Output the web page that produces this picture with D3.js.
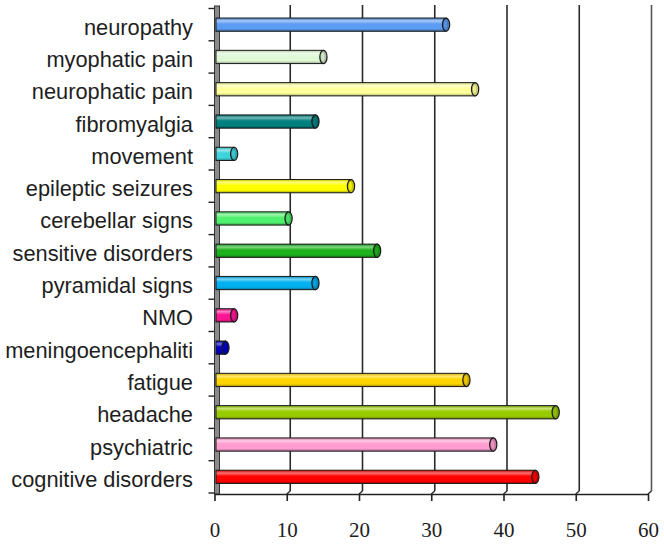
<!DOCTYPE html>
<html>
<head>
<meta charset="utf-8">
<script src="https://cdn.jsdelivr.net/npm/d3@7/dist/d3.min.js"></script>
<style>
  html, body { margin: 0; padding: 0; background: #fff; }
  svg { display: block; }
</style>
</head>
<body>
<svg id="chart" width="664" height="544"></svg>
<script>
const categories = ["neuropathy","myophatic pain","neurophatic pain","fibromyalgia","movement","epileptic seizures","cerebellar signs","sensitive disorders","pyramidal signs","NMO","meningoencephaliti","fatigue","headache","psychiatric","cognitive disorders"];
const values = [31.7, 14.8, 35.7, 13.7, 2.5, 18.6, 10.0, 22.2, 13.7, 2.5, 1.3, 34.5, 46.8, 38.2, 44.0];
const colors = ["#5c9cf2","#dff8d6","#ffff9c","#00807f","#3fd3dc","#ffff00","#4ff06e","#1db21d","#00b0f0","#ff1493","#0000c8","#ffd500","#99cc00","#ff9ccf","#ff0000"];
const xTicks = [0, 10, 20, 30, 40, 50, 60];

const svg = d3.select("#chart");
const defs = svg.append("defs");

// front (axis) scale and depth offsets
const x = d3.scaleLinear().domain([0, 60]).range([214.5, 648]);
const xBar = d3.scaleLinear().domain([0, 60]).range([216, 651.5]);
const back = {dx: 3.5, dy: -3};
const y = d3.scaleBand().domain(categories).range([8.5, 493]).paddingInner(0.59).paddingOuter(0.295);
const axisY = 494;

// back wall gridlines
const grid = svg.append("g");
xTicks.forEach(t => {
  if (t === 0) return;
  const gx = x(t) + back.dx;
  grid.append("line")
    .attr("x1", gx).attr("x2", gx)
    .attr("y1", 5).attr("y2", axisY + back.dy)
    .attr("stroke", t === 60 ? "#555" : "#2a2a2a").attr("stroke-width", 1.6);
  grid.append("line")
    .attr("x1", gx).attr("x2", x(t))
    .attr("y1", axisY + back.dy).attr("y2", axisY)
    .attr("stroke", "#2a2a2a").attr("stroke-width", 1.4);
});

// left wall
svg.append("rect")
  .attr("x", x(0)).attr("y", 6)
  .attr("width", back.dx + 1.5).attr("height", axisY - 6)
  .attr("fill", "#8a8a8a").attr("stroke", "#333").attr("stroke-width", 1);

// bars (cylinders)
categories.forEach((c, i) => {
  const col = d3.color(colors[i]);
  const id = "g" + i;
  const g = defs.append("linearGradient").attr("id", id)
    .attr("x1", 0).attr("x2", 0).attr("y1", 0).attr("y2", 1);
  const hl = d3.interpolateRgb(col, "#ffffff")(0.45);
  g.append("stop").attr("offset", "0%").attr("stop-color", col.darker(0.6));
  g.append("stop").attr("offset", "22%").attr("stop-color", hl);
  g.append("stop").attr("offset", "45%").attr("stop-color", col);
  g.append("stop").attr("offset", "80%").attr("stop-color", col);
  g.append("stop").attr("offset", "100%").attr("stop-color", col.darker(1.2));
});

const bars = svg.append("g").selectAll("g").data(categories).join("g");
bars.append("rect")
  .attr("x", xBar(0))
  .attr("y", d => y(d))
  .attr("width", (d, i) => Math.max(0, xBar(values[i]) - xBar(0)))
  .attr("height", y.bandwidth())
  .attr("fill", (d, i) => `url(#g${i})`)
  .attr("stroke", "#1a1a1a").attr("stroke-width", 1);
bars.append("ellipse")
  .attr("cx", (d, i) => xBar(values[i]))
  .attr("cy", d => y(d) + y.bandwidth() / 2)
  .attr("rx", 3.6)
  .attr("ry", y.bandwidth() / 2)
  .attr("fill", (d, i) => d3.color(colors[i]).darker(0.7))
  .attr("stroke", "#1a1a1a").attr("stroke-width", 1.2);
bars.append("ellipse")
  .attr("cx", (d, i) => xBar(values[i]) - 0.6)
  .attr("cy", d => y(d) + y.bandwidth() / 2)
  .attr("rx", 1.6)
  .attr("ry", y.bandwidth() / 2 - 2.5)
  .attr("fill", (d, i) => d3.color(colors[i]).darker(0.2));

// category ticks
const step = y.step();
d3.range(categories.length + 1).forEach(k => {
  const ty = y(categories[0]) - y.paddingOuter() * step + k * step;
  svg.append("line")
    .attr("x1", x(0) - 6).attr("x2", x(0))
    .attr("y1", ty).attr("y2", ty)
    .attr("stroke", "#222").attr("stroke-width", 1.4);
});

// category labels
svg.append("g").selectAll("text").data(categories).join("text")
  .attr("x", 193)
  .attr("y", d => y(d) + y.bandwidth() / 2 + 10)
  .attr("text-anchor", "end")
  .attr("font-family", "Liberation Sans, Arial, sans-serif")
  .attr("font-size", 21.8)
  .attr("fill", "#1e1e1e")
  .text(d => d);

// bottom axis
const xAxis = d3.axisBottom(x).tickValues(xTicks).tickSize(7).tickSizeOuter(0);
const ax = svg.append("g").attr("transform", `translate(0,${axisY})`).call(xAxis);
ax.select(".domain").attr("stroke", "#222").attr("stroke-width", 1.6);
ax.selectAll(".tick line").attr("stroke", "#222").attr("stroke-width", 1.6);
ax.selectAll(".tick text")
  .attr("y", 0).attr("dy", null)
  .attr("transform", "translate(0,43)")
  .attr("font-family", "Liberation Serif, Times New Roman, serif")
  .attr("font-size", 21)
  .attr("fill", "#1e1e1e");
</script>
</body>
</html>
